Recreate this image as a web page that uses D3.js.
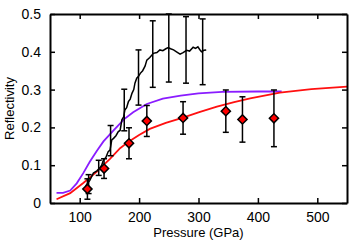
<!DOCTYPE html>
<html>
<head>
<meta charset="utf-8">
<script src="https://cdn.jsdelivr.net/npm/d3@7"></script>
<style>
  body { margin: 0; background: #fff; }
  text { font-family: "Liberation Sans", Arial, sans-serif; fill: #000; }
</style>
</head>
<body>
<div id="chart"></div>
<script>
"use strict";

// measured reflectivity (red diamonds)
const measPressure = [113, 141, 183, 213, 274, 346, 374, 427];
const measR        = [0.037, 0.091, 0.158, 0.217, 0.225, 0.243, 0.221, 0.224];
const measErr      = [0.027, 0.026, 0.041, 0.041, 0.043, 0.056, 0.060, 0.075];

// continuous trace (black)
const tracePressure = [110, 117, 123, 129, 134, 137, 140, 144, 148, 151, 154, 157, 161, 165, 168, 171,
                       174, 176, 179, 182, 185, 188, 191, 193, 196, 199, 202, 206, 210, 213, 218, 224,
                       230, 235, 240, 245, 249, 253, 258, 263, 269, 274, 280, 285, 291, 295, 299, 302, 305, 309, 313];
const traceR       = [0.045, 0.060, 0.079, 0.085, 0.093, 0.100, 0.114, 0.120, 0.136, 0.140, 0.167, 0.171, 0.178, 0.189, 0.192, 0.220,
                       0.228, 0.246, 0.252, 0.268, 0.275, 0.290, 0.300, 0.317, 0.330, 0.335, 0.343, 0.350, 0.362, 0.378, 0.385, 0.396,
                       0.398, 0.405, 0.403, 0.408, 0.411, 0.408, 0.405, 0.400, 0.394, 0.398, 0.404, 0.402, 0.412, 0.409, 0.413, 0.406, 0.400, 0.404, 0.405];

// error bars on the trace
const traceBarPressure = [115, 132, 152, 175, 199, 223, 250, 279, 307];
const traceBarR        = [0.050, 0.093, 0.165, 0.246, 0.332, 0.394, 0.410, 0.405, 0.400];
const traceBarErr      = [0.025, 0.020, 0.040, 0.055, 0.073, 0.088, 0.090, 0.088, 0.087];

// model curves
const purplePressure = [61, 72, 84, 95, 106, 117, 129, 140, 157, 175, 190, 213, 240, 270, 300, 340, 400, 440];
const purpleR        = [0.027, 0.027, 0.033, 0.052, 0.079, 0.109, 0.138, 0.163, 0.192, 0.222, 0.240, 0.262, 0.276, 0.284, 0.290, 0.294, 0.295, 0.295];
const redPressure    = [61, 84, 106, 129, 140, 151, 168, 183, 200, 218, 245, 274, 300, 331, 360, 387, 437, 490, 550];
const redR           = [0.010, 0.026, 0.053, 0.083, 0.100, 0.117, 0.145, 0.163, 0.180, 0.196, 0.212, 0.226, 0.240, 0.255, 0.267, 0.277, 0.292, 0.301, 0.308];

const xTicks = [100, 200, 300, 400, 500];
const yTicks = [0, 0.1, 0.2, 0.3, 0.4, 0.5];

const size = { width: 354, height: 243 };
const margin = { top: 14, right: 7, bottom: 40, left: 50 };

const svg = d3.select("#chart").append("svg")
    .attr("width", size.width)
    .attr("height", size.height);

const x = d3.scaleLinear().domain([50, 550]).range([margin.left, size.width - margin.right]);
const y = d3.scaleLinear().domain([0, 0.5]).range([size.height - margin.bottom, margin.top]);

const zip = (a, b) => a.map((v, i) => [v, b[i]]);
const line = d3.line().x(d => x(d[0])).y(d => y(d[1]));

// model curves
svg.append("path").attr("d", line(zip(purplePressure, purpleR)))
   .attr("fill", "none").attr("stroke", "#8a1cff").attr("stroke-width", 1.8);
svg.append("path").attr("d", line(zip(redPressure, redR)))
   .attr("fill", "none").attr("stroke", "#ff1010").attr("stroke-width", 1.8);

// trace
svg.append("path").attr("d", line(zip(tracePressure, traceR)))
   .attr("fill", "none").attr("stroke", "#000").attr("stroke-width", 1.5);

function drawBars(px, py, err) {
    const g = svg.append("g").attr("stroke", "#000").attr("stroke-width", 1.5);
    px.forEach((p, i) => {
        const cx = x(p), y0 = y(py[i] - err[i]), y1 = y(py[i] + err[i]);
        g.append("line").attr("x1", cx).attr("x2", cx).attr("y1", y0).attr("y2", y1);
        g.append("line").attr("x1", cx - 3).attr("x2", cx + 3).attr("y1", y0).attr("y2", y0);
        g.append("line").attr("x1", cx - 3).attr("x2", cx + 3).attr("y1", y1).attr("y2", y1);
    });
}
drawBars(traceBarPressure, traceBarR, traceBarErr);
drawBars(measPressure, measR, measErr);

// diamonds
const diamond = d3.symbol().type(d3.symbolSquare).size(42);
svg.append("g").selectAll("path")
   .data(zip(measPressure, measR))
   .join("path")
   .attr("d", diamond)
   .attr("transform", d => `translate(${x(d[0])},${y(d[1])}) rotate(45)`)
   .attr("fill", "#ff0000")
   .attr("stroke", "#000")
   .attr("stroke-width", 1.5);

// frame with inward ticks on all sides
const frame = svg.append("g");
frame.append("g").attr("transform", `translate(0,${y(0)})`)
     .call(d3.axisBottom(x).tickValues(xTicks).tickSizeInner(-5).tickSizeOuter(0).tickPadding(9).tickFormat(d3.format("d")));
frame.append("g").attr("transform", `translate(0,${y(0.5)})`)
     .call(d3.axisTop(x).tickValues(xTicks).tickSizeInner(-5).tickSizeOuter(0).tickFormat(""));
frame.append("g").attr("transform", `translate(${x(50)},0)`)
     .call(d3.axisLeft(y).tickValues(yTicks).tickSizeInner(-5).tickSizeOuter(0).tickPadding(9)
         .tickFormat(d => d === 0 ? "0" : d3.format(".1f")(d)));
frame.append("g").attr("transform", `translate(${x(550)},0)`)
     .call(d3.axisRight(y).tickValues(yTicks).tickSizeInner(-5).tickSizeOuter(0).tickFormat(""));
frame.selectAll(".domain").attr("stroke", "#000").attr("stroke-width", 2);
frame.selectAll(".tick line").attr("stroke", "#000").attr("stroke-width", 1.5);
frame.selectAll(".tick text").attr("font-size", 14).attr("font-family", "Liberation Sans, Arial, sans-serif");

// axis titles
svg.append("text")
   .attr("x", (x(50) + x(550)) / 2)
   .attr("y", 237)
   .attr("text-anchor", "middle")
   .attr("font-size", 13)
   .text("Pressure (GPa)");
svg.append("text")
   .attr("transform", `translate(14,${(y(0) + y(0.5)) / 2}) rotate(-90)`)
   .attr("text-anchor", "middle")
   .attr("font-size", 13)
   .text("Reflectivity");
</script>
</body>
</html>
